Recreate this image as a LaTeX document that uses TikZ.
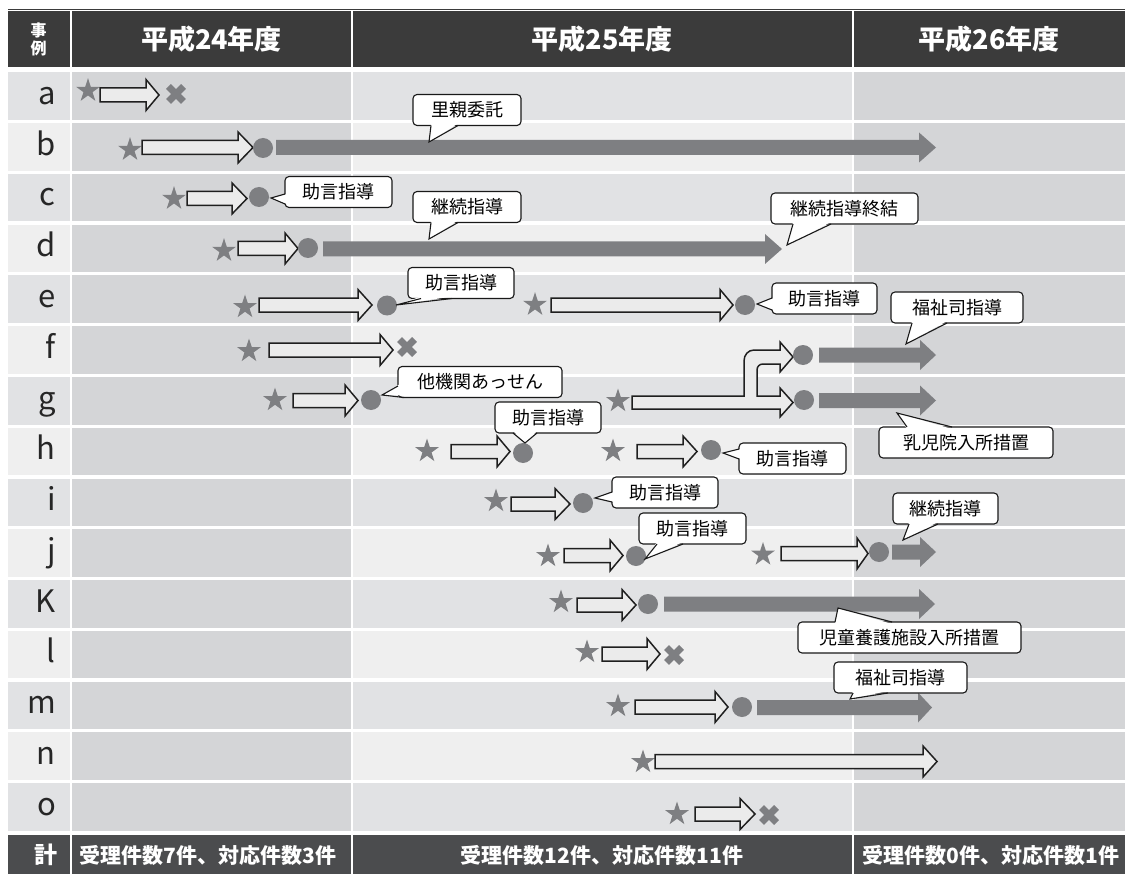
\documentclass[tikz,border=0pt]{standalone}
\usepackage{fontspec}
\setmainfont{Noto Sans CJK JP}
\usetikzlibrary{shapes.geometric,calc}
\definecolor{gshape}{HTML}{7E7F82}
\definecolor{rowA}{HTML}{E1E2E4}
\definecolor{rowB}{HTML}{EFEFEF}
\definecolor{colD}{HTML}{D4D5D7}
\definecolor{hdrc}{HTML}{3B3B3B}
\definecolor{ftrc}{HTML}{4B4C4E}
\definecolor{hollowfill}{HTML}{EBEBEB}
\newcommand\harrow[4]{\draw[hollow] (#1,#4-7) -- (#2,#4-7) -- (#2,#4-15.5) -- (#3,#4) -- (#2,#4+15.5) -- (#2,#4+7) -- (#1,#4+7) -- cycle;}
\newcommand\garrow[4]{\fill[gbar] (#1,#4-7.5) -- (#2,#4-7.5) -- (#2,#4-15) -- (#3,#4) -- (#2,#4+15) -- (#2,#4+7.5) -- (#1,#4+7.5) -- cycle;}
\newcommand\mstar[3]{\node[starn] (#1) at (#2,#3) {};}
\newcommand\mdot[3]{\node[dotn] (#1) at (#2,#3) {};}
\newcommand\xmark[3]{\coordinate (#1) at (#2,#3);
  \draw[xline] ($(#1)+(-7.5,-7.5)$) -- ($(#1)+(7.5,7.5)$);
  \draw[xline] ($(#1)+(-7.5,7.5)$) -- ($(#1)+(7.5,-7.5)$);}
\newcommand\callout[8]{%
  \node[callbox, minimum width=#3pt] (#1) at (#2) {#4};
  \fill[white] ($(#5)+(#8)$) -- (#6) -- ($(#7)+(#8)$) -- cycle;
  \draw[calline] (#5) -- (#6) -- (#7);}
\begin{document}
\begin{tikzpicture}[x=1pt,y=-1pt,
  starn/.style={star, star points=5, star point ratio=2.618, fill=gshape, draw=none, inner sep=0pt, minimum size=25pt},
  dotn/.style={circle, fill=gshape, draw=none, inner sep=0pt, minimum size=20pt},
  hollow/.style={draw=black!88, line width=1.5pt, fill=hollowfill, line join=miter, miter limit=10},
  gbar/.style={fill=gshape},
  xline/.style={draw=gshape, line width=7pt},
  callbox/.style={draw=black!90, line width=1.1pt, fill=white, rounded corners=4pt, inner sep=0pt, minimum height=31pt, font=\fontsize{18}{18}\selectfont},
  calline/.style={draw=black!90, line width=1.1pt, line join=miter},
  rowlab/.style={anchor=base east, inner sep=0pt, font=\fontsize{31}{31}\selectfont, text=black!85},
  htext/.style={text=white, font=\bfseries\fontsize{27}{27}\selectfont, inner sep=0pt},
  ftext/.style={text=white, font=\bfseries\fontsize{21}{21}\selectfont, inner sep=0pt},
]
\useasboundingbox (0,0) rectangle (1131,874);
\fill[white] (0,0) rectangle (1131,874);
% header
\draw[hdrc, line width=1pt] (8,9.5) -- (1125,9.5);
\fill[hdrc] (8,11) rectangle (69.5,67);
\fill[hdrc] (72,11) rectangle (351,67);
\fill[hdrc] (353,11) rectangle (851.5,67);
\fill[hdrc] (853.5,11) rectangle (1125,67);
\node[text=white, font=\bfseries\fontsize{16}{18}\selectfont, align=center, inner sep=0pt] (jirei) at (38.5,39) {事\\例};
\node[htext] (h24) at (211.5,39) {平成24年度};
\node[htext] (h25) at (602,39) {平成25年度};
\node[htext] (h26) at (989,39) {平成26年度};
% rows
\foreach \lab [count=\k from 0] in {a,b,c,d,e,f,g,h,i,j,K,l,m,n,o} {
  \pgfmathsetmacro\rt{72.5+50.75*\k}
  \pgfmathsetmacro\rb{\rt+47.5}
  \pgfmathtruncatemacro\odd{mod(\k,2)}
  \ifnum\odd=0 \def\rc{rowA}\else\def\rc{rowB}\fi
  \fill[fill=\rc] (8,\rt) rectangle (69.5,\rb);
  \fill[fill=colD] (72,\rt) rectangle (351,\rb);
  \fill[fill=\rc] (353,\rt) rectangle (851.5,\rb);
  \fill[fill=colD] (853.5,\rt) rectangle (1125,\rb);
  \node[rowlab] (lab\lab) at (56,\rt+32) {\lab};
}
% footer
\fill[ftrc] (8,835) rectangle (69.5,874);
\fill[ftrc] (72,835) rectangle (351,874);
\fill[ftrc] (353,835) rectangle (851.5,874);
\fill[ftrc] (853.5,835) rectangle (1125,874);
\node[text=white, font=\bfseries\fontsize{23}{23}\selectfont, inner sep=0pt] (kei) at (46,855) {計};
\node[ftext] (f24) at (208,855) {受理件数7件、対応件数3件};
\node[ftext] (f25) at (602,855) {受理件数12件、対応件数11件};
\node[ftext] (f26) at (991,855) {受理件数0件、対応件数1件};
% row a
\mstar{sa}{88}{90.7} \harrow{100}{146}{159}{95} \xmark{xa}{176}{94}
% row b
\garrow{276}{919}{936}{147.5}
\mstar{sb}{130}{149.7} \harrow{142}{238}{253}{147.5} \mdot{db}{263}{148}
% row c
\mstar{sc}{174}{198.7} \harrow{187}{232}{247}{198.5} \mdot{dc}{259}{197}
% row d
\garrow{323}{765}{782}{249}
\mstar{sd}{224}{250.7} \harrow{238}{285}{298}{248.5} \mdot{dd}{308}{248}
% row e
\mstar{se}{245}{307} \harrow{259}{358}{372}{305} \mdot{de}{387}{305.5}
\mstar{se2}{535}{304.7} \harrow{551}{720}{733}{305} \mdot{de2}{745}{305}
% row f
\mstar{sf}{249}{351} \harrow{269}{380}{393}{350} \xmark{xf}{407}{347}
% row g
\mstar{sg}{275}{400} \harrow{293}{345}{358}{400.5} \mdot{dg}{371}{400}
\mstar{sg2}{618}{401}
\draw[hollow] (632,396) -- (744,396) -- (744,361) .. controls (744,355) and (748,350) .. (754,350) -- (780,350) -- (780,342) -- (793,357) -- (780,372) -- (780,364) -- (763,364) .. controls (759.5,364) and (757,366.5) .. (757,370) -- (757,396) -- (780,396) -- (780,388) -- (793,402.5) -- (780,417) -- (780,409) -- (632,409) -- cycle;
\mdot{dg2}{803}{355} \mdot{dg3}{804}{400}
\garrow{819}{920}{936}{355} \garrow{819}{920}{936}{400.5}
% row h
\mstar{sh}{427}{451} \harrow{451}{497}{510}{451.5} \mdot{dh}{523}{453}
\mstar{sh2}{613}{451} \harrow{637}{683}{697}{451.5} \mdot{dh2}{711}{450}
% row i
\mstar{si}{496}{501} \harrow{511}{555}{570}{504} \mdot{di}{583}{503}
% row j
\mstar{sj}{548}{556} \harrow{564}{610}{623}{555.5} \mdot{dj}{636}{556}
\mstar{sj2}{763}{554.5} \harrow{781}{857}{868}{553.5} \mdot{dj2}{879}{552}
\garrow{892}{920}{936}{552}
% row K
\garrow{664}{919}{935}{604}
\mstar{sk}{561}{602} \harrow{577}{622}{636}{605} \mdot{dk}{648}{604}
% row l
\mstar{sl}{587}{652} \harrow{602}{647}{660}{654} \xmark{xl}{674}{655}
% row m
\garrow{757}{918}{932}{707.5}
\mstar{sm}{618}{706} \harrow{635}{715}{728}{707} \mdot{dm}{742}{707}
% row n
\mstar{sn}{643}{762} \harrow{655}{923}{937}{761.5}
% row o
\mstar{so}{677}{814} \harrow{695}{740}{755}{814} \xmark{xo}{769}{815}
% callouts
\callout{c1}{467,110}{108}{里親委託}{431,125.5}{429,142}{458,125.5}{0,-2}
\callout{c2}{338.5,192}{107}{助言指導}{285,194}{271,198}{285,204}{2,0}
\callout{c3}{467,207}{108}{継続指導}{431,222.5}{429,239}{458,222.5}{0,-2}
\callout{c4}{844.5,208.5}{147}{継続指導終結}{793,224}{787,245}{831,224}{0,-2}
\callout{c5}{461,283}{106}{助言指導}{421,298.5}{396,305}{452,298.5}{0,-2}
\callout{c6}{824.5,298.5}{105}{助言指導}{772,298}{757,304}{772,310}{2,0}
\callout{c7}{957,307.5}{132}{福祉司指導}{912,323}{906,344}{947,323}{0,-2}
\callout{c8}{480,382}{164}{他機関あっせん}{398,386}{382,395}{404,397.5}{2,-2}
\callout{c9}{966,442.5}{174}{乳児院入所措置}{907,427}{897,413}{952,427}{0,2}
\callout{c10}{548,417.5}{106}{助言指導}{513,433}{525,443}{537,433}{0,-2}
\callout{c11}{792.5,458.5}{107}{助言指導}{739,449}{723,453}{739,459}{2,0}
\callout{c12}{665,492.5}{106}{助言指導}{612,492}{595,498}{612,502}{2,0}
\callout{c13}{692.5,528.5}{107}{助言指導}{657,544}{645,559}{683,544}{0,-2}
\callout{c14}{945.5,508.5}{105}{継続指導}{909,524}{903,540}{938,524}{0,-2}
\callout{c15}{909.5,637.5}{223}{児童養護施設入所措置}{835,622}{838,608}{892,622}{0,2}
\callout{c16}{900.5,677.5}{133}{福祉司指導}{853,693}{850,699}{888,693}{0,-2}
\end{tikzpicture}
\end{document}
